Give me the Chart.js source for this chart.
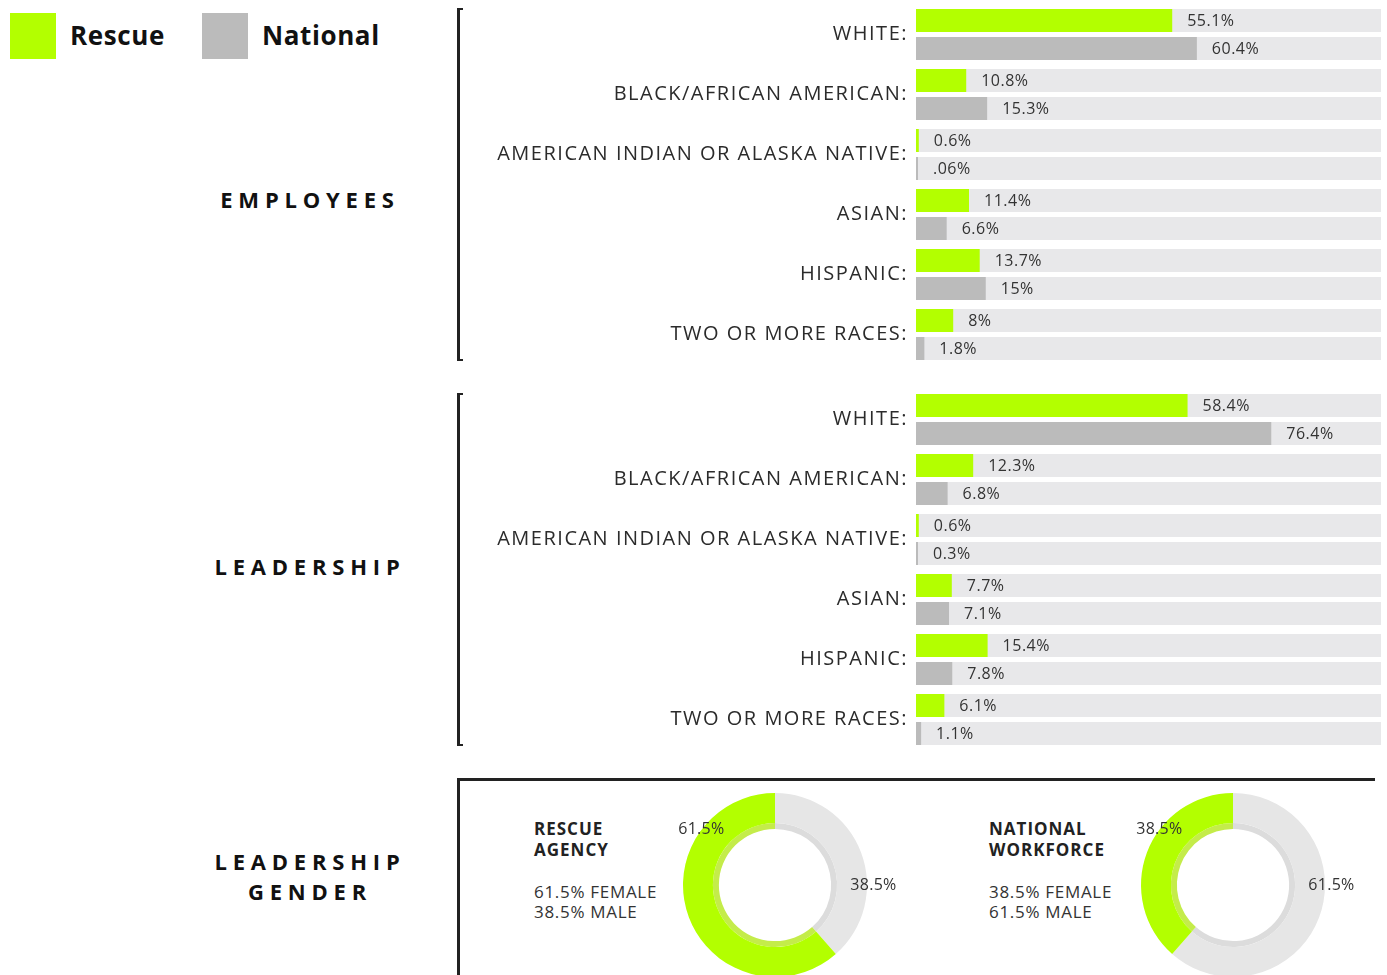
<!DOCTYPE html>
<html>
<head>
<meta charset="utf-8">
<script src="https://cdn.jsdelivr.net/npm/chart.js@4.4.1/dist/chart.umd.min.js"></script>
<style>
  html, body { margin: 0; padding: 0; background: #fff; overflow: hidden; width: 1387px; height: 975px; }
  body { position: relative; font-family: "Open Sans", sans-serif; color: #222; }
  .abs { position: absolute; }
  .swatch { width: 46px; height: 46px; top: 13px; }
  .legtxt { top: 19px; line-height: 32px; font-size: 26px; font-weight: 700; letter-spacing: 0.6px; color: #111; }
  .section { width: 300px; left: 160px; text-align: center; font-size: 22px; font-weight: 700; letter-spacing: 5.8px; line-height: 30px; color: #111; }
  .bracket { left: 457px; width: 6px; border-left: 3px solid #222; border-top: 2px solid #222; border-bottom: 2px solid #222; box-sizing: border-box; }
  .dhead { font-size: 17px; font-weight: 700; line-height: 21px; letter-spacing: 1px; color: #222; }
  .dtext { font-size: 17px; line-height: 20px; letter-spacing: 0.7px; color: #333; }
</style>
</head>
<body>

<div class="abs swatch" style="left:10px;background:#b3ff00"></div>
<div class="abs legtxt" style="left:70px">Rescue</div>
<div class="abs swatch" style="left:202px;background:#bbbbbb"></div>
<div class="abs legtxt" style="left:262px">National</div>

<div class="abs section" style="top:184px">EMPLOYEES</div>
<div class="abs section" style="top:551px">LEADERSHIP</div>
<div class="abs section" style="top:846px">LEADERSHIP<br>GENDER</div>

<div class="abs bracket" style="top:8px;height:353px"></div>
<div class="abs bracket" style="top:393px;height:353px"></div>

<canvas id="employees" class="abs" style="left:460px;top:0px" width="921" height="370"></canvas>
<canvas id="leadership" class="abs" style="left:460px;top:385px" width="921" height="370"></canvas>

<div class="abs" style="left:457px;top:778px;width:918px;height:3px;background:#222"></div>
<div class="abs" style="left:457px;top:778px;width:3px;height:200px;background:#222"></div>

<div class="abs dhead" style="left:534px;top:818px">RESCUE<br>AGENCY</div>
<div class="abs dtext" style="left:534px;top:882px">61.5% FEMALE<br>38.5% MALE</div>
<div class="abs dhead" style="left:989px;top:818px">NATIONAL<br>WORKFORCE</div>
<div class="abs dtext" style="left:989px;top:882px">38.5% FEMALE<br>61.5% MALE</div>

<canvas id="rescueGender" class="abs" style="left:645px;top:793px" width="260" height="184"></canvas>
<canvas id="nationalGender" class="abs" style="left:1103px;top:793px" width="260" height="184"></canvas>

<script>
var categories = ["WHITE:", "BLACK/AFRICAN AMERICAN:", "AMERICAN INDIAN OR ALASKA NATIVE:", "ASIAN:", "HISPANIC:", "TWO OR MORE RACES:"];

var employeesRescue = [55.1, 10.8, 0.6, 11.4, 13.7, 8];
var employeesNational = [60.4, 15.3, 0.06, 6.6, 15, 1.8];
var employeesRescueText = ["55.1%", "10.8%", "0.6%", "11.4%", "13.7%", "8%"];
var employeesNationalText = ["60.4%", "15.3%", ".06%", "6.6%", "15%", "1.8%"];

var leadershipRescue = [58.4, 12.3, 0.6, 7.7, 15.4, 6.1];
var leadershipNational = [76.4, 6.8, 0.3, 7.1, 7.8, 1.1];
var leadershipRescueText = ["58.4%", "12.3%", "0.6%", "7.7%", "15.4%", "6.1%"];
var leadershipNationalText = ["76.4%", "6.8%", "0.3%", "7.1%", "7.8%", "1.1%"];

var genderLabels = ["Male", "Female"];
var rescueGender = [38.5, 61.5];
var nationalGender = [61.5, 38.5];

const GREEN = "#b3ff00";
const GREY = "#bbbbbb";

// light grey track behind every bar, and wider letters for the category ticks
const trackPlugin = {
  id: "track",
  beforeDraw(chart) {
    chart.ctx.letterSpacing = "1.5px";
  },
  beforeDatasetsDraw(chart) {
    const ctx = chart.ctx;
    const area = chart.chartArea;
    ctx.save();
    ctx.fillStyle = "#e8e8ea";
    chart.data.datasets.forEach((ds, i) => {
      chart.getDatasetMeta(i).data.forEach((bar) => {
        ctx.fillRect(area.left, bar.y - bar.height / 2, area.right - area.left, bar.height);
      });
    });
    ctx.restore();
  },
};

// percentage text just after the end of each bar
const valuePlugin = {
  id: "values",
  afterDatasetsDraw(chart) {
    const ctx = chart.ctx;
    ctx.save();
    ctx.letterSpacing = "0.5px";
    ctx.font = "16px 'Open Sans'";
    ctx.fillStyle = "#333";
    ctx.textBaseline = "middle";
    chart.data.datasets.forEach((ds, i) => {
      chart.getDatasetMeta(i).data.forEach((bar, j) => {
        ctx.fillText(ds.valueText[j], bar.x + 15, bar.y + 1);
      });
    });
    ctx.restore();
  },
};

function makeBars(id, rescue, national, rescueText, nationalText) {
  return new Chart(document.getElementById(id), {
    type: "bar",
    data: {
      labels: categories,
      datasets: [
        { label: "Rescue", data: rescue, valueText: rescueText, backgroundColor: GREEN, minBarLength: 2 },
        { label: "National", data: national, valueText: nationalText, backgroundColor: GREY, minBarLength: 2 },
      ],
    },
    options: {
      indexAxis: "y",
      responsive: false,
      animation: false,
      categoryPercentage: 0.933,
      barPercentage: 0.821,
      layout: { padding: { top: 4.5, bottom: 5.5, left: 0, right: 0 } },
      scales: {
        x: { display: false, min: 0, max: 100 },
        y: {
          grid: { display: false, drawTicks: false },
          border: { display: false },
          ticks: { color: "#2b2b2b", font: { family: "Open Sans", size: 20 }, padding: 8 },
          afterFit: (scale) => {
            scale.width = 456;
            scale.paddingTop = 0;
            scale.paddingBottom = 0;
          },
        },
      },
      plugins: { legend: { display: false }, tooltip: { enabled: false } },
    },
    plugins: [trackPlugin, valuePlugin],
  });
}

// slice labels placed around the ring
const donutText = {
  id: "donutText",
  afterDraw(chart) {
    const arc = chart.getDatasetMeta(0).data[0];
    const r = arc.outerRadius;
    const ctx = chart.ctx;
    const vals = chart.data.datasets[0].data;
    ctx.save();
    ctx.letterSpacing = "0.3px";
    ctx.font = "16px 'Open Sans'";
    ctx.fillStyle = "#333";
    ctx.textAlign = "center";
    ctx.textBaseline = "middle";
    ctx.fillText(vals[1] + "%", arc.x - 0.8 * r, arc.y - 0.6 * r);
    ctx.fillText(vals[0] + "%", arc.x + 1.07 * r, arc.y);
    ctx.restore();
  },
};

function makeDonut(id, values) {
  return new Chart(document.getElementById(id), {
    type: "doughnut",
    data: {
      labels: genderLabels,
      datasets: [
        { data: values, backgroundColor: ["#e6e6e6", GREEN], borderWidth: 0, weight: 5 },
        { data: values, backgroundColor: ["#dcdcdc", "#c4ec4a"], borderWidth: 0, weight: 1 },
      ],
    },
    options: {
      responsive: false,
      animation: false,
      cutout: "61%",
      plugins: { legend: { display: false }, tooltip: { enabled: false } },
    },
    plugins: [donutText],
  });
}

makeBars("employees", employeesRescue, employeesNational, employeesRescueText, employeesNationalText);
makeBars("leadership", leadershipRescue, leadershipNational, leadershipRescueText, leadershipNationalText);
makeDonut("rescueGender", rescueGender);
makeDonut("nationalGender", nationalGender);
</script>
</body>
</html>
